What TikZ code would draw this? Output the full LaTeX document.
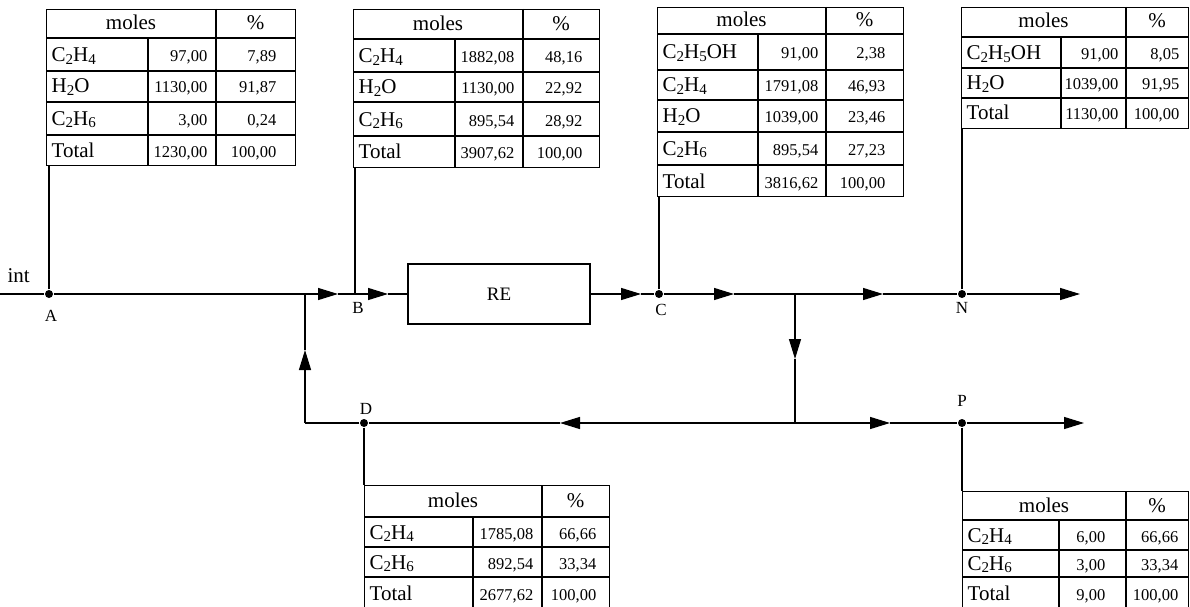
\documentclass[tikz,border=0pt]{standalone}
\usepackage{fontspec}
\setmainfont{Liberation Serif}
\usetikzlibrary{arrows.meta,calc}
\newcommand\settabx[6]{\def\tXa{#1}\def\tXb{#2}\def\tXc{#3}\def\tXd{#4}\def\tVpad{#5}\def\tPpad{#6}}
\newcommand\tabhead[2]{\node[hd] (#1m) at ({(\tXa+\tXc)/2},#2) {moles};
  \node[hd] (#1p) at ({(\tXc+\tXd)/2},#2) {\%};}
\newcommand\tabrow[5]{\node[nm] (#1n) at ({\tXa+5},#2) {#3};
  \node[val] (#1v) at ({\tXc-\tVpad},#2) {#4};
  \node[val] (#1p) at ({\tXd-\tPpad},#2) {#5};}
\newcommand\sbs[1]{\raisebox{-0.3ex}{\fontsize{15}{15}\selectfont #1}}
\newcommand\Ctwo{C\sbs{2}}
\begin{document}
\begin{tikzpicture}[x=1pt,y=-1pt,
  line width=1.3pt,
  tip/.style={-{Triangle[length=20pt,width=12pt]}},
  dot/.style={circle,fill=black,inner sep=0pt,minimum size=8pt},
  lbl/.style={inner sep=0pt,font=\fontsize{17}{18}\selectfont},
  tabframe/.style={draw,line width=1.3pt,inner sep=0pt},
  nm/.style={anchor=base west,inner sep=0pt,font=\fontsize{21}{22}\selectfont},
  val/.style={anchor=base east,inner sep=0pt,font=\fontsize{16.5}{18}\selectfont},
  hd/.style={anchor=base,inner sep=0pt,font=\fontsize{21}{22}\selectfont},
  unit/.style={draw,line width=1.3pt,inner sep=0pt,minimum width=182pt,minimum height=60pt,font=\fontsize{19}{20}\selectfont}
]
\useasboundingbox (0,0) rectangle (1190,607);
\clip (0,0) rectangle (1190,607);
\fill[white] (0,0) rectangle (1190,607);

% ---------- Table A
\settabx{46}{148}{216}{295}{8}{18}
\node[tabframe,minimum width=249pt,minimum height=156pt,anchor=north west] (tA) at (46,9) {};
\draw (46,38) -- (295,38) (46,71) -- (295,71) (46,102) -- (295,102) (46,135) -- (295,135)
      (216,9) -- (216,165) (148,38) -- (148,165);
\tabhead{tA}{30}
\tabrow{tA1}{62}{\Ctwo H\sbs{4}}{97,00}{7,89}
\tabrow{tA2}{93}{H\sbs{2}O}{1130,00}{91,87}
\tabrow{tA3}{125}{\Ctwo H\sbs{6}}{3,00}{0,24}
\tabrow{tA4}{157}{Total}{1230,00}{100,00}

% ---------- Table B
\settabx{353}{455}{523}{599}{8}{16}
\node[tabframe,minimum width=246pt,minimum height=158pt,anchor=north west] (tB) at (353,9) {};
\draw (353,39) -- (599,39) (353,72) -- (599,72) (353,102) -- (599,102) (353,136) -- (599,136)
      (523,9) -- (523,167) (455,39) -- (455,167);
\tabhead{tB}{31}
\tabrow{tB1}{63}{\Ctwo H\sbs{4}}{1882,08}{48,16}
\tabrow{tB2}{94}{H\sbs{2}O}{1130,00}{22,92}
\tabrow{tB3}{126}{\Ctwo H\sbs{6}}{895,54}{28,92}
\tabrow{tB4}{158}{Total}{3907,62}{100,00}

% ---------- Table C
\settabx{657}{758}{826}{903}{7}{17}
\node[tabframe,minimum width=246pt,minimum height=189pt,anchor=north west] (tC) at (657,7) {};
\draw (657,34) -- (903,34) (657,70) -- (903,70) (657,100) -- (903,100) (657,132) -- (903,132) (657,165) -- (903,165)
      (826,7) -- (826,196) (758,34) -- (758,196);
\tabhead{tC}{27}
\tabrow{tC1}{59}{\Ctwo H\sbs{5}OH}{91,00}{2,38}
\tabrow{tC2}{92}{\Ctwo H\sbs{4}}{1791,08}{46,93}
\tabrow{tC3}{123}{H\sbs{2}O}{1039,00}{23,46}
\tabrow{tC4}{155}{\Ctwo H\sbs{6}}{895,54}{27,23}
\tabrow{tC5}{188}{Total}{3816,62}{100,00}

% ---------- Table N
\settabx{961}{1061}{1126}{1188}{7}{8}
\node[tabframe,minimum width=227pt,minimum height=121pt,anchor=north west] (tN) at (961,7) {};
\draw (961,37) -- (1188,37) (961,68) -- (1188,68) (961,98) -- (1188,98)
      (1126,7) -- (1126,128) (1061,37) -- (1061,128);
\tabhead{tN}{28}
\tabrow{tN1}{60}{\Ctwo H\sbs{5}OH}{91,00}{8,05}
\tabrow{tN2}{90}{H\sbs{2}O}{1039,00}{91,95}
\tabrow{tN3}{120}{Total}{1130,00}{100,00}

% ---------- Table D
\settabx{364}{473}{542}{609}{8}{12}
\node[tabframe,minimum width=245pt,minimum height=127pt,anchor=north west] (tD) at (364,485) {};
\draw (364,517) -- (609,517) (364,547) -- (609,547) (364,577) -- (609,577)
      (542,485) -- (542,612) (473,517) -- (473,612);
\tabhead{tD}{507}
\tabrow{tD1}{539}{\Ctwo H\sbs{4}}{1785,08}{66,66}
\tabrow{tD2}{569}{\Ctwo H\sbs{6}}{892,54}{33,34}
\tabrow{tD3}{600}{Total}{2677,62}{100,00}

% ---------- Table P
\settabx{962}{1059}{1126}{1188}{20}{9}
\node[tabframe,minimum width=226pt,minimum height=121pt,anchor=north west] (tP) at (962,491) {};
\draw (962,520) -- (1188,520) (962,550) -- (1188,550) (962,577) -- (1188,577)
      (1126,491) -- (1126,612) (1059,520) -- (1059,612);
\tabhead{tP}{512}
\tabrow{tP1}{542}{\Ctwo H\sbs{4}}{6,00}{66,66}
\tabrow{tP2}{570}{\Ctwo H\sbs{6}}{3,00}{33,34}
\tabrow{tP3}{600}{Total}{9,00}{100,00}

% ---------- flow sheet
\node[nm] (pt) at (7,282) {int};
\coordinate (st) at (0,294);
\node[dot] (A) at (49,294) {};
\coordinate (J1) at (305,294);
\coordinate (a1) at (338,294);
\coordinate (Bj) at (355,294);
\coordinate (a2) at (388,294);
\node[unit] (RE) at (499,294) {RE};
\coordinate (a3) at (641,294);
\node[dot] (C) at (659,294) {};
\coordinate (a4) at (734,294);
\coordinate (S) at (795,294);
\coordinate (a5) at (883,294);
\node[dot] (N) at (962,294) {};
\coordinate (e1) at (1080,294);
\coordinate (a6) at (795,359);
\coordinate (S2) at (795,423);
\coordinate (a7) at (560,423);
\coordinate (a8) at (890,423);
\node[dot] (P) at (962,423) {};
\coordinate (e2) at (1084,423);
\node[dot] (D) at (364,423) {};
\coordinate (J2) at (305,423);
\coordinate (a9) at (305,350);

\draw (st) -- (A) -- (J1);
\draw[tip] (J1) -- (a1);
\draw (a1) -- (Bj);
\draw[tip] (Bj) -- (a2);
\draw (a2) -- (RE.west);
\draw[tip] (RE.east) -- (a3);
\draw (a3) -- (C);
\draw[tip] (C) -- (a4);
\draw (a4) -- (S);
\draw[tip] (S) -- (a5);
\draw (a5) -- (N);
\draw[tip] (N) -- (e1);
\draw[tip] (S) -- (a6);
\draw (a6) -- (S2);
\draw[tip] (S2) -- (a7);
\draw (a7) -- (D);
\draw[tip] (S2) -- (a8);
\draw (a8) -- (P);
\draw[tip] (P) -- (e2);
\draw (D) -- (J2);
\draw[tip] (J2) -- (a9);
\draw (a9) -- (J1);

\draw (A) -- (A |- tA.south);
\draw (Bj) -- (Bj |- tB.south);
\draw (C) -- (C |- tC.south);
\draw (N) -- (N |- tN.south);
\draw (D) -- (D |- tD.north);
\draw (P) -- (P |- tP.north);

\node[lbl] (lA) at (51,316) {A};
\node[lbl] (lB) at (358,308) {B};
\node[lbl] (lC) at (661,310) {C};
\node[lbl] (lN) at (962,308) {N};
\node[lbl] (lD) at (366,409) {D};
\node[lbl] (lP) at (962,401) {P};
\end{tikzpicture}
\end{document}
